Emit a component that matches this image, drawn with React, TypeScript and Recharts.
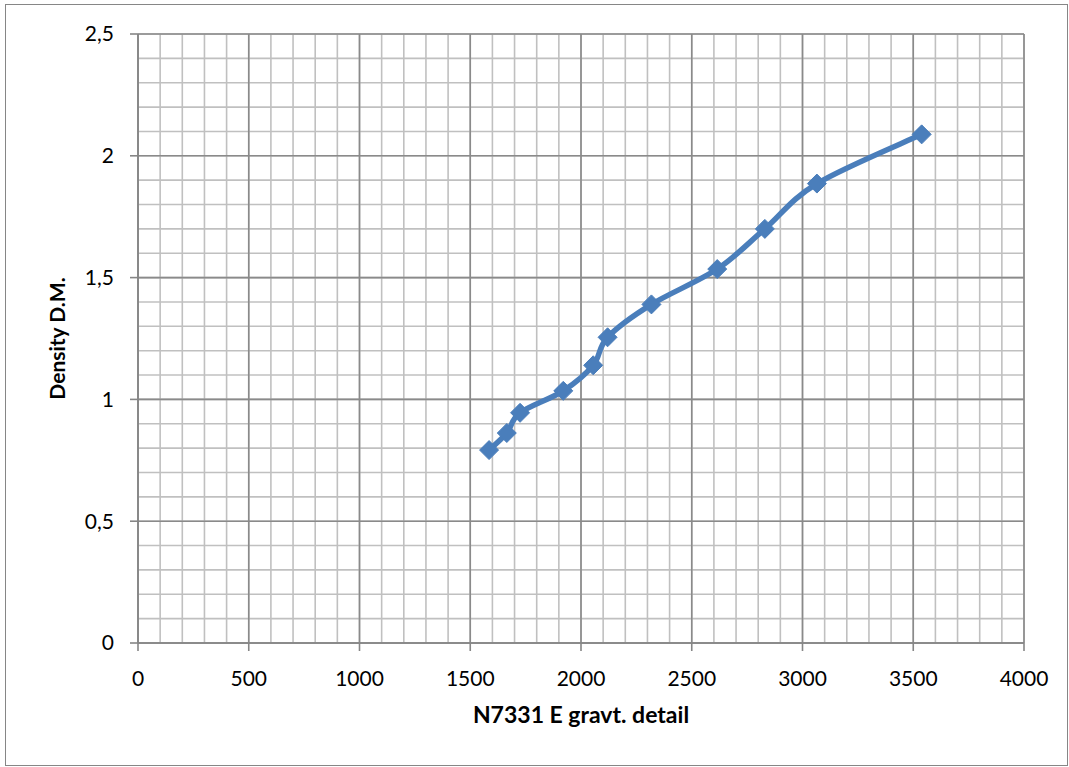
import { LineChart, Line, XAxis, YAxis, CartesianGrid } from "recharts";

// N7331 E gravt. detail (x) vs Density D.M. (y)
const gravtDetail = [1585, 1665, 1725, 1920, 2055, 2120, 2318, 2615, 2830, 3065, 3538];
const density = [0.792, 0.862, 0.945, 1.035, 1.14, 1.255, 1.39, 1.535, 1.7, 1.886, 2.088];

const xTicks = [0, 500, 1000, 1500, 2000, 2500, 3000, 3500, 4000];
const yTicks = [0, 0.5, 1, 1.5, 2, 2.5];

// minor gridlines every 100 / 0.1
const xMinor = Array.from({ length: 41 }, (_, i) => i * 100);
const yMinor = Array.from({ length: 26 }, (_, i) => i / 10);

const data = gravtDetail.map((x, i) => ({ x, y: density[i] }));

const BLUE = "#4a7ebb";
const AXIS = "#868686";
const FONT = "Lato, 'Open Sans', sans-serif";

// Excel-style smoothing (Catmull-Rom through the points)
const smoothCurve = (context: any) => {
  let pts: number[][] = [];
  return {
    areaStart() {},
    areaEnd() {},
    lineStart() {
      pts = [];
    },
    point(x: number, y: number) {
      pts.push([x, y]);
    },
    lineEnd() {
      const n = pts.length;
      if (!n) return;
      context.moveTo(pts[0][0], pts[0][1]);
      for (let i = 0; i < n - 1; i++) {
        const p0 = pts[Math.max(i - 1, 0)];
        const p1 = pts[i];
        const p2 = pts[i + 1];
        const p3 = pts[Math.min(i + 2, n - 1)];
        context.bezierCurveTo(
          p1[0] + (p2[0] - p0[0]) / 6,
          p1[1] + (p2[1] - p0[1]) / 6,
          p2[0] - (p3[0] - p1[0]) / 6,
          p2[1] - (p3[1] - p1[1]) / 6,
          p2[0],
          p2[1]
        );
      }
    },
  };
};

const Diamond = (props: any) => {
  const { cx, cy } = props;
  if (cx == null || cy == null) return null;
  const r = 9.5;
  return (
    <polygon
      points={`${cx},${cy - r} ${cx + r},${cy} ${cx},${cy + r} ${cx - r},${cy}`}
      fill={BLUE}
      stroke={BLUE}
      strokeWidth={1}
    />
  );
};

export default function App() {
  return (
    <div style={{ position: "absolute", left: 0, top: 0, width: 1069, height: 767, background: "#fff" }}>
      <div
        style={{
          position: "absolute",
          left: 5,
          top: 4,
          width: 1061,
          height: 760,
          border: `1px solid ${AXIS}`,
        }}
      />
      <div style={{ position: "absolute", left: 0, top: 0 }}>
        <LineChart
          width={1069}
          height={767}
          data={data}
          margin={{ top: 34, right: 45, bottom: 64, left: 78 }}
        >
          <CartesianGrid
            stroke="#c0c0c0"
            strokeWidth={1.6}
            verticalValues={xMinor}
            horizontalValues={yMinor}
          />
          <CartesianGrid
            stroke="#8a8a8a"
            strokeWidth={1.6}
            verticalValues={xTicks}
            horizontalValues={yTicks}
          />
          <XAxis
            type="number"
            dataKey="x"
            domain={[0, 4000]}
            ticks={xTicks}
            interval={0}
            stroke={AXIS}
            strokeWidth={1.6}
            tickSize={8}
            tickMargin={20}
            height={60}
            tick={{ fill: "#000", fontSize: 21, fontFamily: FONT }}
            label={{
              value: "N7331 E gravt. detail",
              position: "insideBottom",
              offset: -20,
              fill: "#000",
              fontSize: 23,
              fontWeight: "bold",
              fontFamily: FONT,
            }}
          />
          <YAxis
            type="number"
            domain={[0, 2.5]}
            ticks={yTicks}
            interval={0}
            stroke={AXIS}
            strokeWidth={1.6}
            tickSize={8}
            tickMargin={16}
            width={60}
            tickFormatter={(v: number) => String(v).replace(".", ",")}
            tick={{ fill: "#000", fontSize: 21, fontFamily: FONT }}
            label={{
              value: "Density D.M.",
              angle: -90,
              position: "insideLeft",
              offset: -20,
              style: { textAnchor: "middle" },
              fill: "#000",
              fontSize: 21,
              fontWeight: "bold",
              fontFamily: FONT,
            }}
          />
          <Line
            type={smoothCurve as any}
            dataKey="y"
            stroke={BLUE}
            strokeWidth={5.5}
            dot={<Diamond />}
            activeDot={false}
            isAnimationActive={false}
          />
        </LineChart>
      </div>
    </div>
  );
}
